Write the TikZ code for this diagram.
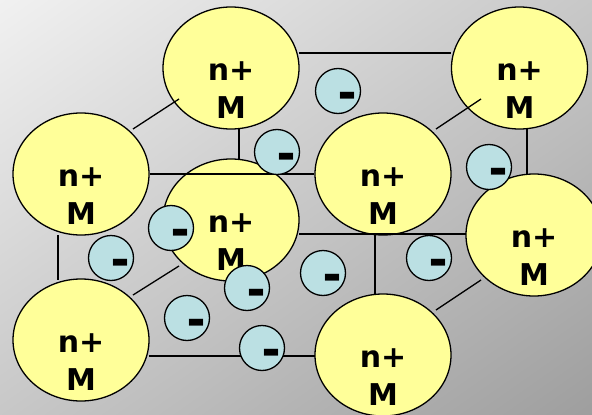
\documentclass[tikz,border=0pt]{standalone}
\usepackage{fontspec}
\usepackage{graphicx}
\setmainfont{DejaVu Sans}
\usetikzlibrary{shapes.geometric,calc}
\definecolor{ionfill}{HTML}{FFFF99}
\definecolor{elfill}{HTML}{BBE0E3}
\definecolor{bglight}{HTML}{F1F1F1}
\definecolor{bgmid}{HTML}{BEBEBE}
\definecolor{bgdark}{HTML}{9E9E9E}
\newcommand\metalion[3]{\node[ion] (#1) at (#2,#3) {};}
\newcommand\ionlabel[1]{%
  \node[lab] (#1-n) at ($(#1)+(0,12)$) {n+};
  \node[lab] (#1-m) at ($(#1)+(0,50)$) {M};}
\newcommand\electron[3]{%
  \node[elec] (#1) at (#2,#3) {};
  \node[minus] (#1-s) at ($(#1)+(0,19.5)$) {\scalebox{1}[1.5]{–}};}
\begin{document}
\begin{tikzpicture}[x=1pt,y=-1pt,
  ion/.style={ellipse,draw=black,line width=1.3pt,fill=ionfill,minimum width=136pt,minimum height=122pt,inner sep=0pt},
  lab/.style={anchor=base,inner sep=0pt,font=\fontsize{30}{36}\selectfont\bfseries},
  elec/.style={circle,draw=black,line width=1.3pt,fill=elfill,minimum size=45pt,inner sep=0pt},
  minus/.style={anchor=base west,inner sep=0pt,font=\fontsize{36}{36}\selectfont\bfseries},
  bond/.style={draw=black,line width=1.3pt}]
\useasboundingbox (0,0) rectangle (592,415);
\clip (0,0) rectangle (592,415);
\begin{scope}[transform canvas={shift={(296,207.5)},rotate=35}]
\shade[top color=bglight,middle color=bgmid,bottom color=bgdark] (-365pt,-341pt) rectangle (365pt,341pt);
\end{scope}
% ions
\metalion{A}{231}{68}
\metalion{B}{519.5}{68}
\metalion{F1}{81}{174}
\metalion{F2}{383}{174}
\metalion{BB}{231}{220}
\metalion{R2}{534}{235}
\metalion{F3}{81}{340}
\metalion{F4}{383}{355}
\ionlabel{A}\ionlabel{B}\ionlabel{F1}\ionlabel{F2}
\ionlabel{BB}\ionlabel{R2}\ionlabel{F3}\ionlabel{F4}
% bonds
\draw[bond] ($(A)+(68,-15)$) -- ($(B)+(-68.5,-15)$);
\draw[bond] ($(F1)+(52,-45)$) -- ($(A)+(-52,31)$);
\draw[bond] ($(F2)+(53,-45)$) -- ($(B)+(-38.5,31)$);
\draw[bond] ($(A)+(8,61)$) -- ($(BB)+(8,-61)$);
\draw[bond] (F1.east) -- (F2.west);
\draw[bond] ($(B)+(7.5,61)$) -- ($(R2)+(-7,-61)$);
\draw[bond] ($(F1)+(-23,61)$) -- ($(F3)+(-23,-60)$);
\draw[bond] ($(BB)+(68,14)$) -- ($(R2)+(-68,-1)$);
\coordinate (J) at ($(BB)+(144,14)$);
\draw[bond] (J) -- ($(F4)+(-8,-60)$);
\draw[bond] ($(F3)+(52,-45)$) -- ($(BB)+(-52,46)$);
\draw[bond] ($(F4)+(53,-45)$) -- ($(R2)+(-53,45)$);
\draw[bond] ($(F3)+(68,16)$) -- ($(F4)+(-68,1)$);
% electrons
\electron{e1}{338}{91}
\electron{e2}{277}{152}
\electron{e3}{489}{167}
\electron{e4}{171}{228}
\electron{e5}{111}{258}
\electron{e6}{247}{288}
\electron{e7}{187}{318}
\electron{e8}{262}{348}
\electron{e9}{323}{273}
\electron{e10}{429}{258}
\end{tikzpicture}
\end{document}
